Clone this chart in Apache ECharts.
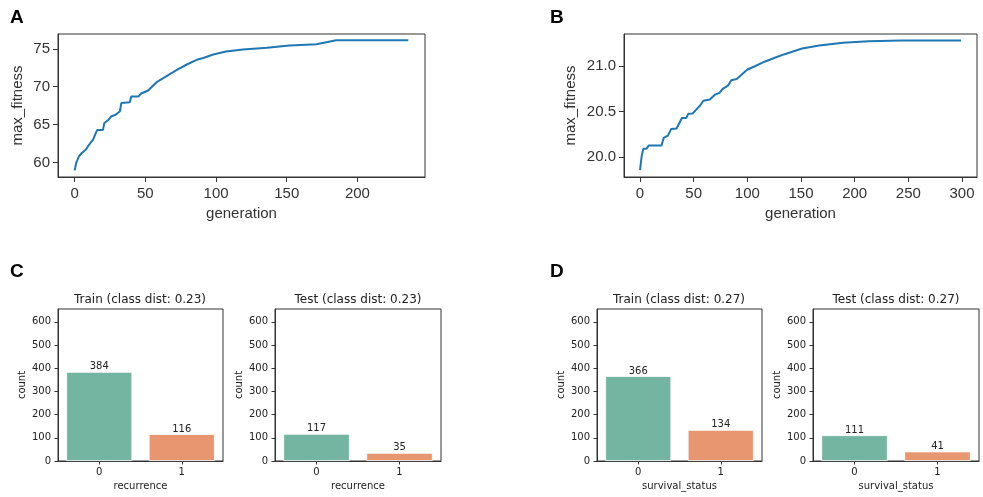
<!DOCTYPE html>
<html>
<head>
<meta charset="utf-8">
<script src="https://cdn.jsdelivr.net/npm/echarts@6/dist/echarts.min.js"></script>
<style>
html, body { margin: 0; padding: 0; background: #fff; }
#main { width: 983px; height: 497px; }
</style>
</head>
<body>
<div id="main"></div>
<script>
// A: max fitness per generation
var genA = [0, 1, 3, 5, 8, 10, 13, 15, 16, 20, 21, 24, 26, 29, 32, 33, 39, 40, 45, 47, 52, 55, 58, 65, 72, 79, 87, 91, 98, 107, 119, 136, 152, 171, 178, 185, 236];
var fitA = [58.95, 59.9, 60.8, 61.25, 61.7, 62.3, 63.0, 63.9, 64.3, 64.3, 65.2, 65.65, 66.1, 66.3, 66.75, 67.85, 67.95, 68.7, 68.7, 69.1, 69.5, 70.05, 70.6, 71.4, 72.2, 72.9, 73.6, 73.8, 74.25, 74.65, 74.9, 75.13, 75.45, 75.6, 75.87, 76.14, 76.14];
// B
var genB = [0, 1.5, 3, 6, 8, 20, 22, 26, 29, 34, 37, 39, 43, 45, 49, 53, 56, 59, 65, 70, 74, 77, 82, 85, 90, 94, 100, 107, 116, 125, 134, 151, 167, 189, 213, 244, 299];
var fitB = [19.855, 20.01, 20.09, 20.09, 20.126, 20.126, 20.21, 20.236, 20.31, 20.315, 20.383, 20.43, 20.43, 20.478, 20.48, 20.53, 20.567, 20.62, 20.633, 20.688, 20.707, 20.75, 20.787, 20.846, 20.86, 20.9, 20.964, 21.0, 21.05, 21.09, 21.13, 21.195, 21.228, 21.258, 21.276, 21.283, 21.283];
// tick labels
var ticksA_x = [0, 50, 100, 150, 200];
var ticksA_y = [60, 65, 70, 75];
var ticksB_x = [0, 50, 100, 150, 200, 250, 300];
var ticksB_y = [20.0, 20.5, 21.0];
var ticksCount = [0, 100, 200, 300, 400, 500, 600];
// C / D class counts
var classes = ['0', '1'];
var trainC = [384, 116];
var testC = [117, 35];
var trainD = [366, 134];
var testD = [111, 41];

var barColors = ['#73b5a1', '#e8966f'];
var sansTop = 'Liberation Sans, Arial, sans-serif';
var sansBot = 'DejaVu Sans, sans-serif';

function pairs(xs, ys) {
    var out = [];
    for (var i = 0; i < xs.length; i++) out.push([xs[i], ys[i]]);
    return out;
}

function lineX(idx, min, max, ticks) {
    return {
        type: 'value', gridIndex: idx, min: min, max: max,
        name: 'generation', nameLocation: 'middle', nameGap: 29,
        nameTextStyle: { fontFamily: sansTop, fontSize: 15, color: '#333' },
        axisLine: { show: true, onZero: false, lineStyle: { color: '#333', width: 1 } },
        axisTick: { show: true, length: 5, customValues: ticks, lineStyle: { color: '#333' } },
        axisLabel: { customValues: ticks, margin: 9, fontFamily: sansTop, fontSize: 15, color: '#333' },
        splitLine: { show: false }
    };
}
function lineY(idx, min, max, ticks, dec, gap) {
    return {
        type: 'value', gridIndex: idx, min: min, max: max,
        name: 'max_fitness', nameLocation: 'middle', nameGap: gap,
        nameTextStyle: { fontFamily: sansTop, fontSize: 15, color: '#333' },
        axisLine: { show: true, onZero: false, lineStyle: { color: '#333', width: 1 } },
        axisTick: { show: true, length: 5, customValues: ticks, lineStyle: { color: '#333' } },
        axisLabel: {
            customValues: ticks, margin: 8, fontFamily: sansTop, fontSize: 15, color: '#333',
            formatter: function (v) { return v.toFixed(dec); }
        },
        splitLine: { show: false }
    };
}
function barX(idx, label) {
    return {
        type: 'category', gridIndex: idx, data: classes,
        name: label, nameLocation: 'middle', nameGap: 20,
        nameTextStyle: { fontFamily: sansBot, fontSize: 10, color: '#222' },
        axisLine: { show: true, onZero: false, lineStyle: { color: '#333' } },
        axisTick: { show: true, alignWithLabel: true, length: 3.5, lineStyle: { color: '#333' } },
        axisLabel: { margin: 6, fontFamily: sansBot, fontSize: 10, color: '#222' }
    };
}
function barY(idx) {
    return {
        type: 'value', gridIndex: idx, min: 0, max: 655,
        name: 'count', nameLocation: 'middle', nameGap: 31,
        nameTextStyle: { fontFamily: sansBot, fontSize: 10, color: '#222' },
        axisLine: { show: true, onZero: false, lineStyle: { color: '#333' } },
        axisTick: { show: true, length: 3.5, customValues: ticksCount, lineStyle: { color: '#333' } },
        axisLabel: { customValues: ticksCount, margin: 7, fontFamily: sansBot, fontSize: 10, color: '#222' },
        splitLine: { show: false }
    };
}
function barSeries(idx, vals) {
    var data = [];
    for (var i = 0; i < vals.length; i++) {
        data.push({ value: vals[i], itemStyle: { color: barColors[i] } });
    }
    return {
        type: 'bar', xAxisIndex: idx, yAxisIndex: idx, data: data,
        barCategoryGap: '20%',
        itemStyle: { borderColor: '#fff', borderWidth: 0.8 },
        label: { show: true, position: 'top', distance: 0, fontFamily: sansBot, fontSize: 10, color: '#222' },
        animation: false
    };
}
// title padding is 5px, so shift the anchor back by it
function panelTitle(text, cx, top) {
    return { text: text, left: cx - 5, top: top, textAlign: 'center',
        textStyle: { fontFamily: sansBot, fontSize: 12, fontWeight: 'normal', color: '#222' } };
}
function letter(text, left, top) {
    return { text: text, left: left, top: top,
        textStyle: { fontFamily: sansTop, fontSize: 19, fontWeight: 'bold', color: '#000' } };
}

var gridStyle = { show: true, borderColor: '#333', borderWidth: 1, backgroundColor: '#fff' };
var myChart = echarts.init(document.getElementById('main'), null, { renderer: 'canvas' });

var option = {
    backgroundColor: '#fff',
    animation: false,
    title: [
        letter('A', 5, 3), letter('B', 545, 3), letter('C', 5, 257), letter('D', 545, 257),
        panelTitle('Train (class dist: 0.23)', 140, 289),
        panelTitle('Test (class dist: 0.23)', 358, 289),
        panelTitle('Train (class dist: 0.27)', 679, 289),
        panelTitle('Test (class dist: 0.27)', 896, 289)
    ],
    grid: [
        Object.assign({ left: 58, top: 34, width: 367, height: 143 }, gridStyle),
        Object.assign({ left: 624, top: 34, width: 353, height: 143 }, gridStyle),
        Object.assign({ left: 58, top: 309, width: 165, height: 152 }, gridStyle),
        Object.assign({ left: 275, top: 309, width: 166, height: 152 }, gridStyle),
        Object.assign({ left: 597, top: 309, width: 165, height: 152 }, gridStyle),
        Object.assign({ left: 813, top: 309, width: 166, height: 152 }, gridStyle)
    ],
    xAxis: [
        lineX(0, -11.8, 247.8, ticksA_x),
        lineX(1, -14.95, 313.95, ticksB_x),
        barX(2, 'recurrence'), barX(3, 'recurrence'),
        barX(4, 'survival_status'), barX(5, 'survival_status')
    ],
    yAxis: [
        lineY(0, 58.08, 76.96, ticksA_y, 0, 33),
        lineY(1, 19.78, 21.355, ticksB_y, 1, 46),
        barY(2), barY(3), barY(4), barY(5)
    ],
    series: [
        { type: 'line', xAxisIndex: 0, yAxisIndex: 0, data: pairs(genA, fitA), showSymbol: false,
          lineStyle: { color: '#1f77b4', width: 2 }, itemStyle: { color: '#1f77b4' } },
        { type: 'line', xAxisIndex: 1, yAxisIndex: 1, data: pairs(genB, fitB), showSymbol: false,
          lineStyle: { color: '#1f77b4', width: 2 }, itemStyle: { color: '#1f77b4' } },
        barSeries(2, trainC), barSeries(3, testC),
        barSeries(4, trainD), barSeries(5, testD)
    ]
};
myChart.setOption(option);
</script>
</body>
</html>
